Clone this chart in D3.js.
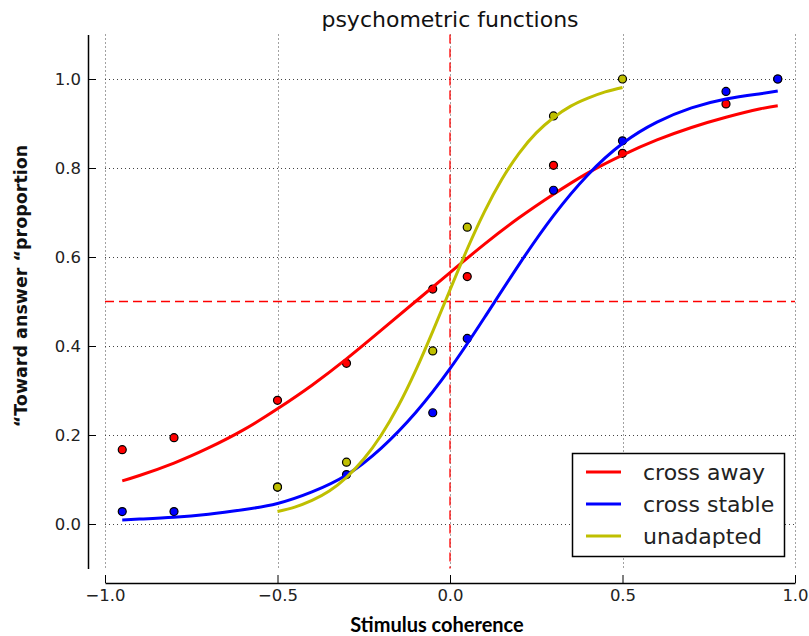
<!DOCTYPE html>
<html>
<head>
<meta charset="utf-8">
<script src="https://cdn.jsdelivr.net/npm/d3@7"></script>
<style>
  body { margin: 0; background: #fff; }
  svg { display: block; }
</style>
</head>
<body>
<svg id="chart" width="809" height="636"></svg>
<script>
// ---------- data ----------
const xTicks = [-1.0, -0.5, 0.0, 0.5, 1.0];
const yTicks = [0.0, 0.2, 0.4, 0.6, 0.8, 1.0];
const seriesNames = ["cross away", "cross stable", "unadapted"];
const seriesColors = ["#ff0000", "#0000ff", "#bfbf00"];

// observed proportions
const obsX = [-0.95, -0.8, -0.5, -0.3, -0.05, 0.05, 0.3, 0.5, 0.8, 0.95];
const awayObs = [0.167, 0.194, 0.278, 0.361, 0.528, 0.556, 0.806, 0.833, 0.944, 1.0];
const stableObs = [0.028, 0.028, 0.083, 0.111, 0.25, 0.417, 0.75, 0.861, 0.972, 1.0];
const unadaptedX = [-0.5, -0.3, -0.05, 0.05, 0.3, 0.5];
const unadaptedObs = [0.083, 0.139, 0.389, 0.667, 0.917, 1.0];

// fitted curves
const fitX = [-0.95, -0.9, -0.8, -0.7, -0.6, -0.5, -0.4, -0.3, -0.2, -0.1, 0.0, 0.1, 0.2, 0.3, 0.4, 0.5, 0.6, 0.7, 0.8, 0.9, 0.95];
const awayFit = [0.097, 0.109, 0.137, 0.171, 0.211, 0.259, 0.312, 0.371, 0.435, 0.5, 0.565, 0.629, 0.688, 0.741, 0.789, 0.829, 0.863, 0.891, 0.914, 0.933, 0.940];
const stableFit = [0.009, 0.011, 0.015, 0.022, 0.032, 0.046, 0.072, 0.110, 0.170, 0.250, 0.349, 0.464, 0.583, 0.693, 0.785, 0.855, 0.903, 0.935, 0.955, 0.967, 0.973];
const unadaptedFitX = [-0.5, -0.45, -0.4, -0.35, -0.3, -0.25, -0.2, -0.15, -0.1, -0.05, 0.0, 0.05, 0.1, 0.15, 0.2, 0.25, 0.3, 0.35, 0.4, 0.45, 0.5];
const unadaptedFit = [0.028, 0.038, 0.053, 0.074, 0.105, 0.146, 0.199, 0.265, 0.344, 0.433, 0.526, 0.618, 0.702, 0.774, 0.833, 0.879, 0.913, 0.939, 0.957, 0.971, 0.981];

const titleText = "psychometric functions";
const xLabel = "Stimulus coherence";
const yLabel = "\u201CToward answer \u201Cproportion";

// ---------- drawing ----------
const svg = d3.select("#chart");
const x = d3.scaleLinear().domain([-1, 1]).range([105, 795]);
const y = d3.scaleLinear().domain([-0.1, 1.1]).range([568.5, 34.5]);

const tickFont = "DejaVu Sans, sans-serif";

// grid
const grid = svg.append("g").attr("stroke", "#444").attr("stroke-width", 1).attr("stroke-dasharray", "1,3");
grid.selectAll("line.v").data(xTicks).join("line")
  .attr("x1", d => Math.round(x(d)) + 0.5).attr("x2", d => Math.round(x(d)) + 0.5)
  .attr("y1", y(1.1)).attr("y2", y(-0.1));
grid.selectAll("line.h").data(yTicks).join("line")
  .attr("y1", d => Math.round(y(d)) + 0.5).attr("y2", d => Math.round(y(d)) + 0.5)
  .attr("x1", x(-1)).attr("x2", x(1));

// reference lines
svg.append("line")
  .attr("x1", x(0)).attr("x2", x(0)).attr("y1", y(1.1)).attr("y2", y(-0.1))
  .attr("stroke", "#ff0000").attr("stroke-width", 1.3).attr("stroke-dasharray", "9,5");
svg.append("line")
  .attr("x1", x(-1)).attr("x2", x(1)).attr("y1", y(0.5)).attr("y2", y(0.5))
  .attr("stroke", "#ff0000").attr("stroke-width", 1.3).attr("stroke-dasharray", "9,5");

// axes (offset spines)
const yAxis = d3.axisLeft(y).tickValues(yTicks).tickFormat(d3.format(".1f"))
  .tickSizeInner(-8).tickSizeOuter(0).tickPadding(7);
const gy = svg.append("g").attr("transform", "translate(88,0)").call(yAxis);
const xAxis = d3.axisBottom(x).tickValues(xTicks).tickFormat(d => d3.format(".1f")(d).replace("-", "\u2212"))
  .tickSizeInner(-8).tickSizeOuter(0).tickPadding(6);
const gx = svg.append("g").attr("transform", "translate(0,583)").call(xAxis);
[gx, gy].forEach(g => {
  g.select(".domain").attr("stroke", "#000").attr("stroke-width", 1.5);
  g.selectAll(".tick line").attr("stroke", "#000").attr("stroke-width", 1);
  g.selectAll(".tick text").attr("font-family", tickFont).attr("font-size", 16.5).attr("fill", "#222");
});

// series
const line = d3.line().x(d => x(d[0])).y(d => y(d[1])).curve(d3.curveNatural);
const series = [
  { ox: obsX, oy: awayObs, fx: fitX, fy: awayFit },
  { ox: obsX, oy: stableObs, fx: fitX, fy: stableFit },
  { ox: unadaptedX, oy: unadaptedObs, fx: unadaptedFitX, fy: unadaptedFit }
];
series.forEach((s, i) => {
  const pts = s.ox.map((v, j) => [v, s.oy[j]]);
  svg.append("g").selectAll("circle").data(pts).join("circle")
    .attr("cx", d => x(d[0])).attr("cy", d => y(d[1])).attr("r", 4)
    .attr("fill", seriesColors[i]).attr("stroke", "#000").attr("stroke-width", 1.2);
  svg.append("path")
    .datum(s.fx.map((v, j) => [v, s.fy[j]]))
    .attr("d", line).attr("fill", "none")
    .attr("stroke", seriesColors[i]).attr("stroke-width", 3);
});

// legend
const lg = svg.append("g");
lg.append("rect").attr("x", 572.5).attr("y", 453.5).attr("width", 212).attr("height", 103)
  .attr("fill", "#fff").attr("stroke", "#000").attr("stroke-width", 1.5);
seriesNames.forEach((n, i) => {
  const yy = 472 + i * 32;
  lg.append("line").attr("x1", 586).attr("x2", 621).attr("y1", yy).attr("y2", yy)
    .attr("stroke", seriesColors[i]).attr("stroke-width", 3);
  lg.append("text").attr("x", 643).attr("y", yy).attr("dy", "0.35em")
    .attr("font-family", tickFont).attr("font-size", 22).attr("fill", "#222").text(n);
});

// title & labels
svg.append("text").attr("x", 450).attr("y", 27).attr("text-anchor", "middle")
  .attr("font-family", tickFont).attr("font-size", 22).attr("fill", "#111").text(titleText);
svg.append("text").attr("x", 437).attr("y", 632).attr("text-anchor", "middle")
  .attr("font-family", "Lato, sans-serif").attr("font-weight", "bold").attr("font-size", 20)
  .attr("fill", "#000").text(xLabel);
svg.append("text").attr("transform", "translate(27,286) rotate(-90)").attr("text-anchor", "middle")
  .attr("font-family", tickFont).attr("font-weight", "bold").attr("font-size", 17.5)
  .attr("fill", "#111").text(yLabel);
</script>
</body>
</html>
